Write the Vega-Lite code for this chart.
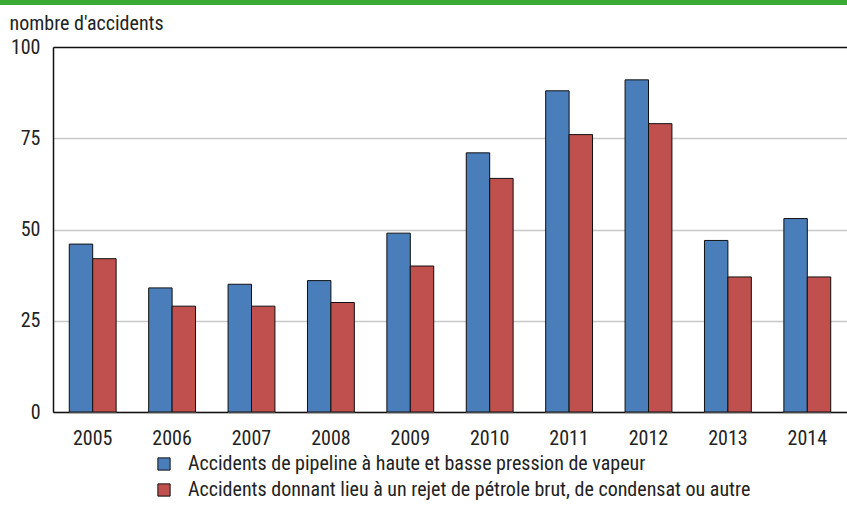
{
  "$schema": "https://vega.github.io/schema/vega-lite/v6.json",
  "autosize": "none",
  "width": 794,
  "height": 365,
  "padding": {"left": 53, "top": 47, "right": 0, "bottom": 98},
  "background": "white",
  "config": {
    "font": "Roboto Condensed, Roboto, sans-serif",
    "view": {"stroke": null}
  },
  "data": {
    "values": [
      {"year": "2005", "series": "Accidents de pipeline à haute et basse pression de vapeur", "value": 46},
      {"year": "2005", "series": "Accidents donnant lieu à un rejet de pétrole brut, de condensat ou autre", "value": 42},
      {"year": "2006", "series": "Accidents de pipeline à haute et basse pression de vapeur", "value": 34},
      {"year": "2006", "series": "Accidents donnant lieu à un rejet de pétrole brut, de condensat ou autre", "value": 29},
      {"year": "2007", "series": "Accidents de pipeline à haute et basse pression de vapeur", "value": 35},
      {"year": "2007", "series": "Accidents donnant lieu à un rejet de pétrole brut, de condensat ou autre", "value": 29},
      {"year": "2008", "series": "Accidents de pipeline à haute et basse pression de vapeur", "value": 36},
      {"year": "2008", "series": "Accidents donnant lieu à un rejet de pétrole brut, de condensat ou autre", "value": 30},
      {"year": "2009", "series": "Accidents de pipeline à haute et basse pression de vapeur", "value": 49},
      {"year": "2009", "series": "Accidents donnant lieu à un rejet de pétrole brut, de condensat ou autre", "value": 40},
      {"year": "2010", "series": "Accidents de pipeline à haute et basse pression de vapeur", "value": 71},
      {"year": "2010", "series": "Accidents donnant lieu à un rejet de pétrole brut, de condensat ou autre", "value": 64},
      {"year": "2011", "series": "Accidents de pipeline à haute et basse pression de vapeur", "value": 88},
      {"year": "2011", "series": "Accidents donnant lieu à un rejet de pétrole brut, de condensat ou autre", "value": 76},
      {"year": "2012", "series": "Accidents de pipeline à haute et basse pression de vapeur", "value": 91},
      {"year": "2012", "series": "Accidents donnant lieu à un rejet de pétrole brut, de condensat ou autre", "value": 79},
      {"year": "2013", "series": "Accidents de pipeline à haute et basse pression de vapeur", "value": 47},
      {"year": "2013", "series": "Accidents donnant lieu à un rejet de pétrole brut, de condensat ou autre", "value": 37},
      {"year": "2014", "series": "Accidents de pipeline à haute et basse pression de vapeur", "value": 53},
      {"year": "2014", "series": "Accidents donnant lieu à un rejet de pétrole brut, de condensat ou autre", "value": 37}
    ]
  },
  "resolve": {"scale": {"x": "independent"}, "axis": {"x": "independent"}},
  "layer": [
    {
      "mark": {"type": "rule", "color": "#3aaa35", "strokeWidth": 5, "yOffset": -45, "xOffset": -53},
      "encoding": {
        "x": {"datum": 0, "type": "quantitative", "scale": {"domain": [0, 1]}, "axis": null},
        "x2": {"datum": 1},
        "y": {"datum": 100, "type": "quantitative", "scale": {"domain": [0, 100]}}
      }
    },
    {
      "layer": [
        {
          "mark": {"type": "bar", "color": "#9a9a9a", "opacity": 0.8, "xOffset": 1.5, "yOffset": 1.5},
          "encoding": {
            "x": {
              "field": "year", "type": "nominal",
              "scale": {"paddingInner": 0.41, "paddingOuter": 0.205},
              "axis": {
                "title": null, "labelAngle": 0, "labelFontSize": 20, "labelColor": "#222222",
                "labelPadding": 16, "ticks": false, "domainColor": "#111111", "domainWidth": 1.5
              }
            },
            "xOffset": {"field": "series", "type": "nominal", "scale": {"paddingInner": 0}},
            "y": {"field": "value", "type": "quantitative"}
          }
        },
        {
          "mark": {"type": "bar", "stroke": "#111111", "strokeWidth": 1},
          "encoding": {
            "x": {
              "field": "year", "type": "nominal",
              "scale": {"paddingInner": 0.41, "paddingOuter": 0.205},
              "axis": {
                "title": null, "labelAngle": 0, "labelFontSize": 20, "labelColor": "#222222",
                "labelPadding": 16, "ticks": false, "domainColor": "#111111", "domainWidth": 1.5
              }
            },
            "xOffset": {"field": "series", "type": "nominal", "scale": {"paddingInner": 0}},
            "y": {
              "field": "value", "type": "quantitative",
              "scale": {"domain": [0, 100]},
              "axis": {
                "values": [0, 25, 50, 75, 100],
                "title": "nombre d'accidents",
                "titleAngle": 0, "titleX": -44, "titleY": -18, "titleAlign": "left",
                "titleBaseline": "alphabetic", "titleFontSize": 20, "titleFontWeight": "normal", "titleColor": "#222222",
                "labelFontSize": 20, "labelColor": "#222222", "labelPadding": 13,
                "ticks": false, "domainColor": "#111111", "domainWidth": 1.5,
                "grid": true,
                "gridColor": {"condition": {"test": "datum.value === 100", "value": "#111111"}, "value": "#c8c8c8"},
                "gridWidth": 1.5
              }
            },
            "color": {
              "field": "series", "type": "nominal",
              "scale": {"range": ["#4a7ebb", "#c0504d"]},
              "legend": {
                "title": null, "orient": "none", "legendX": 101, "legendY": 407,
                "direction": "vertical", "symbolType": "square", "symbolSize": 150,
                "symbolStrokeColor": "#111111", "symbolStrokeWidth": 1, "symbolOpacity": 1,
                "labelFontSize": 20, "labelColor": "#222222", "labelOffset": 14,
                "rowPadding": 6, "labelLimit": 800
              }
            }
          }
        }
      ]
    }
  ]
}
